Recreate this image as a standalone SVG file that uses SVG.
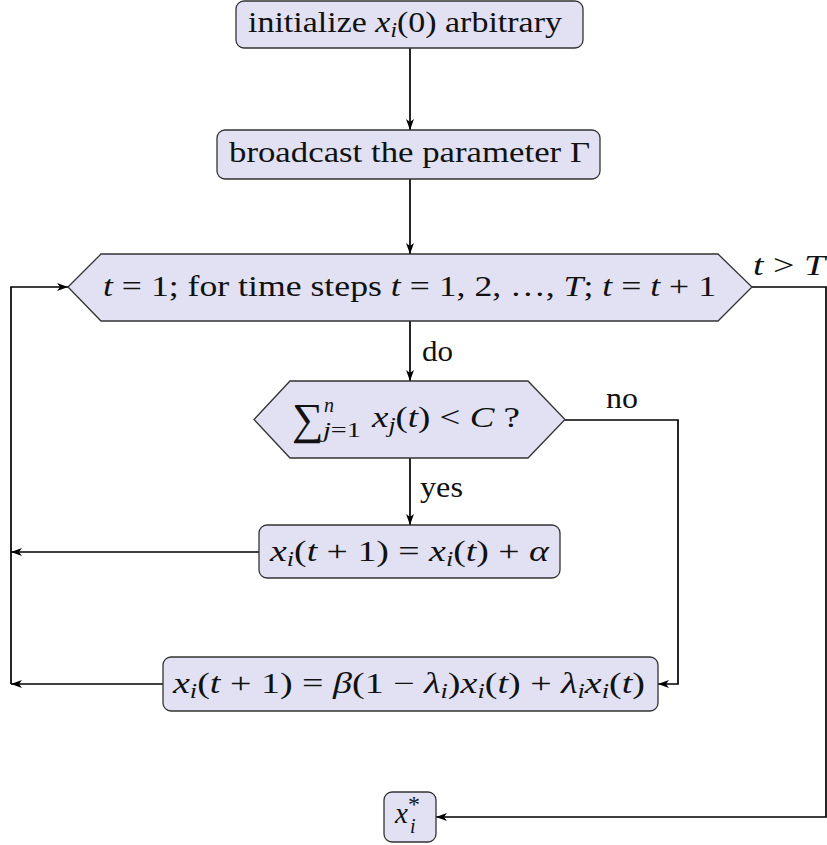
<svg xmlns="http://www.w3.org/2000/svg" width="827" height="845" viewBox="0 0 827 845">
<style>
.node{fill:#e1e1f3;stroke:#333;stroke-width:1.3}
.lbl{font-family:"Liberation Serif","Times New Roman",serif;font-size:29px;fill:#111}
.it{font-style:italic}
.sm{font-size:20px}
.con{fill:none;stroke:#000;stroke-width:1.7}
</style>
<defs>
<marker id="ah" markerUnits="userSpaceOnUse" markerWidth="11" markerHeight="8" viewBox="0 0 11 8" refX="11" refY="4" orient="auto">
<path d="M0,0 L11,4 L0,8 L3,4 z" fill="#000"/>
</marker>
</defs>
<rect width="827" height="845" fill="#fff"/>
<g id="connectors">
<path class="con" d="M410,48 V130" marker-end="url(#ah)"/>
<path class="con" d="M410,179 V254" marker-end="url(#ah)"/>
<path class="con" d="M410,321 V381" marker-end="url(#ah)"/>
<path class="con" d="M410,458 V525" marker-end="url(#ah)"/>
<path class="con" d="M259,552 H11" marker-end="url(#ah)"/>
<path class="con" d="M163,684 H11" marker-end="url(#ah)"/>
<path class="con" d="M11,684 V287 H68" marker-end="url(#ah)"/>
<path class="con" d="M565,420 H678 V684 H658" marker-end="url(#ah)"/>
<path class="con" d="M752,287 H826 V817 H436" marker-end="url(#ah)"/>
<text class="lbl" x="422" y="361" textLength="31" lengthAdjust="spacingAndGlyphs">do</text>
<text class="lbl" x="420" y="497" textLength="43" lengthAdjust="spacingAndGlyphs">yes</text>
<text class="lbl" x="606" y="408" textLength="32" lengthAdjust="spacingAndGlyphs">no</text>
<text class="lbl" x="753" y="275" textLength="72" lengthAdjust="spacingAndGlyphs"><tspan class="it">t</tspan> &gt; <tspan class="it">T</tspan></text>
</g>
<g id="n-init">
<rect class="node" x="236" y="1" width="347" height="47" rx="8"/>
<text class="lbl" x="248" y="32" textLength="314" lengthAdjust="spacingAndGlyphs">initialize <tspan class="it">x</tspan><tspan class="sm it" dy="5">i</tspan><tspan dy="-5">(0) arbitrary</tspan></text>
</g>
<g id="n-broadcast">
<rect class="node" x="217" y="130" width="383" height="49" rx="8"/>
<text class="lbl" x="229" y="162" textLength="361" lengthAdjust="spacingAndGlyphs">broadcast the parameter Γ</text>
</g>
<g id="n-loop">
<polygon class="node" points="68,287 101,254 718,254 752,287 718,321 101,321"/>
<text class="lbl" x="103" y="296" textLength="613" lengthAdjust="spacingAndGlyphs"><tspan class="it">t</tspan> = 1; for time steps <tspan class="it">t</tspan> = 1, 2, …, <tspan class="it">T</tspan>; <tspan class="it">t</tspan> = <tspan class="it">t</tspan> + 1</text>
</g>
<g id="n-decision">
<polygon class="node" points="254,419.5 290,381 528,381 565,419.5 528,458 290,458"/>
<text class="lbl" x="292" y="434" style="font-size:44px">∑</text>
<text class="lbl sm it" x="324" y="412">n</text>
<text class="lbl sm" x="323" y="437" textLength="38" lengthAdjust="spacingAndGlyphs"><tspan class="it">j</tspan>=1</text>
<text class="lbl" x="372" y="427" textLength="148" lengthAdjust="spacingAndGlyphs"><tspan class="it">x</tspan><tspan class="sm it" dy="5">j</tspan><tspan dy="-5">(</tspan><tspan class="it">t</tspan>) &lt; <tspan class="it">C</tspan> ?</text>
</g>
<g id="n-increase">
<rect class="node" x="259" y="525" width="301" height="53" rx="8"/>
<text class="lbl" x="270" y="561" textLength="279" lengthAdjust="spacingAndGlyphs"><tspan class="it">x</tspan><tspan class="sm it" dy="5">i</tspan><tspan dy="-5">(</tspan><tspan class="it">t</tspan> + 1) = <tspan class="it">x</tspan><tspan class="sm it" dy="5">i</tspan><tspan dy="-5">(</tspan><tspan class="it">t</tspan>) + <tspan class="it">α</tspan></text>
</g>
<g id="n-decrease">
<rect class="node" x="163" y="657" width="495" height="54" rx="8"/>
<text class="lbl" x="173" y="693" textLength="472" lengthAdjust="spacingAndGlyphs"><tspan class="it">x</tspan><tspan class="sm it" dy="5">i</tspan><tspan dy="-5">(</tspan><tspan class="it">t</tspan> + 1) = <tspan class="it">β</tspan>(1 − <tspan class="it">λ</tspan><tspan class="sm it" dy="5">i</tspan><tspan dy="-5">)</tspan><tspan class="it">x</tspan><tspan class="sm it" dy="5">i</tspan><tspan dy="-5">(</tspan><tspan class="it">t</tspan>) + <tspan class="it">λ</tspan><tspan class="sm it" dy="5">i</tspan><tspan class="it" dy="-5">x</tspan><tspan class="sm it" dy="5">i</tspan><tspan dy="-5">(</tspan><tspan class="it">t</tspan>)</text>
</g>
<g id="n-result">
<rect class="node" x="384" y="792" width="52" height="50" rx="8"/>
<text class="lbl" x="395" y="823"><tspan class="it">x</tspan><tspan dy="-11" style="font-size:24px">*</tspan><tspan class="sm it" x="410" dy="21">i</tspan></text>
</g>
</svg>
